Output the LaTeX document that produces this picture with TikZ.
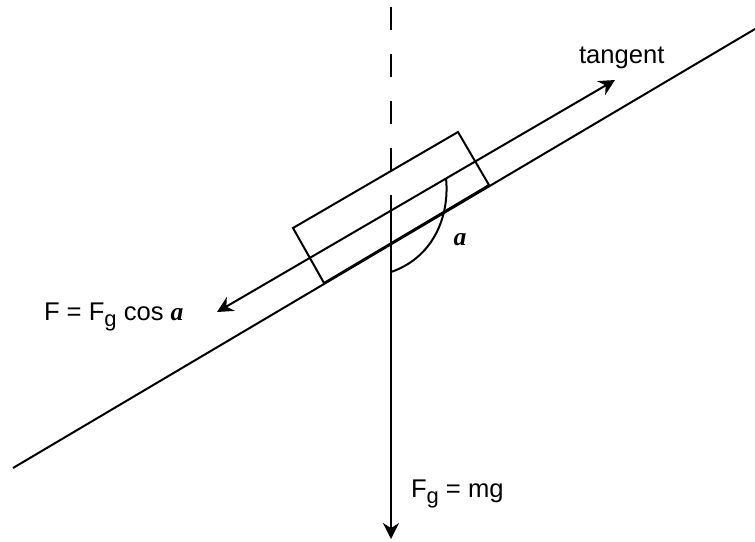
\documentclass[tikz,border=0pt]{standalone}
\usepackage{fontspec}
\setmainfont{Liberation Sans}
\newfontfamily\anglefont{Liberation Serif}
\usetikzlibrary{arrows.meta}
\newcommand{\lowsub}[1]{\raisebox{-3.4pt}{\fontsize{11}{12}\selectfont #1}}
\newcommand{\anglesym}{{\anglefont\bfseries\itshape a}}

\begin{document}
\begin{tikzpicture}[x=0.5pt,y=-0.5pt,line width=1pt,>={Stealth[length=8pt,width=8pt]},
  every node/.style={font=\fontsize{12.8}{15}\selectfont,inner sep=0pt}]
\useasboundingbox (0,0) rectangle (755,541);
\coordinate (slopeL) at (13,468);
\coordinate (slopeR) at (755,29);
\coordinate (top) at (391,7);
\coordinate (c) at (391,208);
\coordinate (bottom) at (391,539);
\coordinate (tanL) at (217,312);
\coordinate (tanR) at (615,80);
\coordinate (arcA) at (391,272);
\coordinate (arcB) at (446,178);
\draw (slopeL)--(slopeR);
\draw (324,283)--(489,185)--(458,132)--(293,228)--cycle;
\draw[dash pattern=on 11.5pt off 12pt] (top)--(c);
\draw[->] (c)--(bottom);
\draw[<->] (tanL)--(tanR);
\draw (arcA) .. controls (432,258) and (450,218) .. (arcB);
\node [anchor=base west] (tanlabel) at (578,63) {tangent};
\node [anchor=base west] (flabel) at (43,320) {F = F\lowsub{g} cos \anglesym};
\node [anchor=base west] (glabel) at (410,497) {F\lowsub{g} = mg};
\node [] (alabel) at (460,240) {\anglesym};
\end{tikzpicture}
\end{document}
